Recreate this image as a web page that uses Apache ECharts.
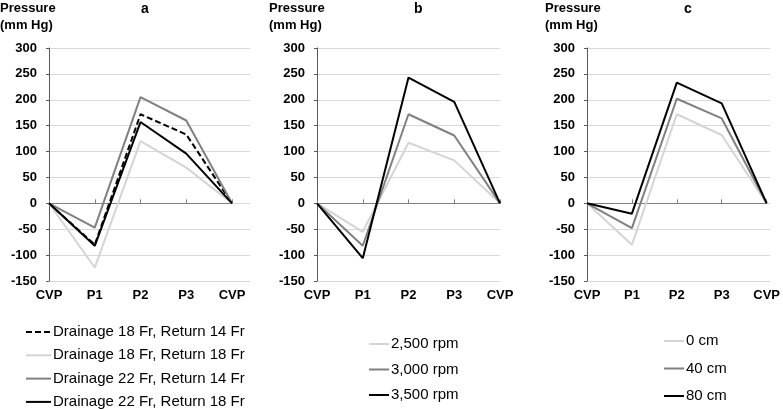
<!DOCTYPE html>
<html>
<head>
<meta charset="utf-8">
<script src="https://cdn.jsdelivr.net/npm/echarts@6/dist/echarts.min.js"></script>
<style>
html, body { margin: 0; padding: 0; background: #fff; }
#chart { width: 783px; height: 409px; }
</style>
</head>
<body>
<div id="chart"></div>
<script>
const categories = ['CVP', 'P1', 'P2', 'P3', 'CVP'];
const yTicks = { min: -150, max: 300, step: 50 };

// panel a
const aD18R14 = [0, -80, 172, 133, 0];
const aD18R18 = [0, -124, 120, 69, 0];
const aD22R14 = [0, -47, 205, 160, 0];
const aD22R18 = [0, -82, 157, 96, 0];
// panel b
const b2500 = [0, -55, 117, 83, 0];
const b3000 = [0, -82, 172, 131, 0];
const b3500 = [0, -106, 243, 196, 0];
// panel c
const c0 = [0, -80, 172, 132, 0];
const c40 = [0, -48, 202, 164, 0];
const c80 = [0, -20, 233, 193, 0];

const FONT = '"Liberation Sans", Arial, sans-serif';
const LIGHT = '#d4d4d4', MID = '#808080', DARK = '#000000';

const chart = echarts.init(document.getElementById('chart'));

// each panel: background grid (gridlines, y labels) + data grid
const panels = [
  { left: 49, width: 183, bgWidth: 201, title: 'a', titleX: 145, pressX: 0 },
  { left: 317, width: 183, bgWidth: 183, title: 'b', titleX: 418, pressX: 269 },
  { left: 587, width: 183, bgWidth: 183, title: 'c', titleX: 688, pressX: 545 }
];
const TOP = 48, HEIGHT = 233;

const grid = [], xAxis = [], yAxis = [];
panels.forEach(function (p, i) {
  grid.push({ left: p.left, top: TOP, width: p.bgWidth, height: HEIGHT });
  grid.push({ left: p.left, top: TOP, width: p.width, height: HEIGHT });
  const bg = i * 2, dg = i * 2 + 1;
  xAxis.push({ gridIndex: bg, type: 'value', min: 0, max: 1, show: false });
  yAxis.push({
    gridIndex: bg, type: 'value', min: yTicks.min, max: yTicks.max, interval: yTicks.step,
    axisLine: { show: true, lineStyle: { color: '#595959', width: 1 } },
    axisTick: { show: true, length: 3, lineStyle: { color: '#595959' } },
    splitLine: { show: true, lineStyle: { color: '#d9d9d9', width: 1 } },
    axisLabel: { color: '#000', fontFamily: FONT, fontWeight: 'bold', fontSize: 13, margin: 12 }
  });
  // axis line at zero, with ticks
  xAxis.push({
    gridIndex: dg, type: 'category', data: categories, boundaryGap: false,
    axisLine: { onZero: true, lineStyle: { color: '#808080', width: 1 } },
    axisTick: { show: true, inside: true, length: 4, lineStyle: { color: '#808080' } },
    axisLabel: { show: false },
    splitLine: { show: false }
  });
  // category labels at bottom
  xAxis.push({
    gridIndex: dg, type: 'category', data: categories, boundaryGap: false, position: 'bottom',
    axisLine: { show: false, onZero: false },
    axisTick: { show: false },
    axisLabel: { color: '#000', fontFamily: FONT, fontWeight: 'bold', fontSize: 13, margin: 8 },
    splitLine: { show: false }
  });
  yAxis.push({
    gridIndex: dg, type: 'value', min: yTicks.min, max: yTicks.max, interval: yTicks.step,
    show: false, splitLine: { show: false }
  });
});

// xAxis per panel: bg=3i, zero line=3i+1, labels=3i+2
function line(name, data, panel, color, dashed) {
  return {
    name: name, type: 'line', data: data, symbol: 'none',
    xAxisIndex: panel * 3 + 1, yAxisIndex: panel * 2 + 1,
    lineStyle: { color: color, width: 2, type: dashed ? [6, 3] : 'solid' },
    itemStyle: { color: color },
    animation: false
  };
}

const series = [
  line('Drainage 18 Fr, Return 14 Fr', aD18R14, 0, DARK, true),
  line('Drainage 18 Fr, Return 18 Fr', aD18R18, 0, LIGHT),
  line('Drainage 22 Fr, Return 14 Fr', aD22R14, 0, MID),
  line('Drainage 22 Fr, Return 18 Fr', aD22R18, 0, DARK),
  line('2,500 rpm', b2500, 1, LIGHT),
  line('3,000 rpm', b3000, 1, MID),
  line('3,500 rpm', b3500, 1, DARK),
  line('0 cm', c0, 2, LIGHT),
  line('40 cm', c40, 2, MID),
  line('80 cm', c80, 2, DARK)
];

function legend(names, left, top, width, gap) {
  return {
    orient: 'vertical', left: left, top: top, padding: 0, height: 120,
    itemWidth: width, itemHeight: 16, itemGap: gap,
    data: names, selectedMode: false,
    itemStyle: { opacity: 0 },
    textStyle: { color: '#000', fontFamily: FONT, fontSize: 15, lineHeight: 16, padding: [0, 0, 0, -3] }
  };
}

const title = [];
panels.forEach(function (p) {
  title.push({ text: 'Pressure\n(mm Hg)', left: p.pressX, top: 0, padding: 0,
    textStyle: { color: '#000', fontFamily: FONT, fontWeight: 'bold', fontSize: 13, lineHeight: 17 } });
  title.push({ text: p.title, left: p.titleX - 4, top: 2, padding: 0,
    textStyle: { color: '#000', fontFamily: FONT, fontWeight: 'bold', fontSize: 14 } });
});

chart.setOption({
  animation: false,
  title: title,
  grid: grid,
  xAxis: xAxis,
  yAxis: yAxis,
  legend: [
    legend(series.slice(0, 4).map(s => s.name), 25, 324, 25, 7.3),
    legend(series.slice(4, 7).map(s => s.name), 368, 336, 20, 9.5),
    legend(series.slice(7).map(s => s.name), 663, 333, 20, 11.5)
  ],
  series: series
});
window.addEventListener('resize', function () { chart.resize(); });
</script>
</body>
</html>
